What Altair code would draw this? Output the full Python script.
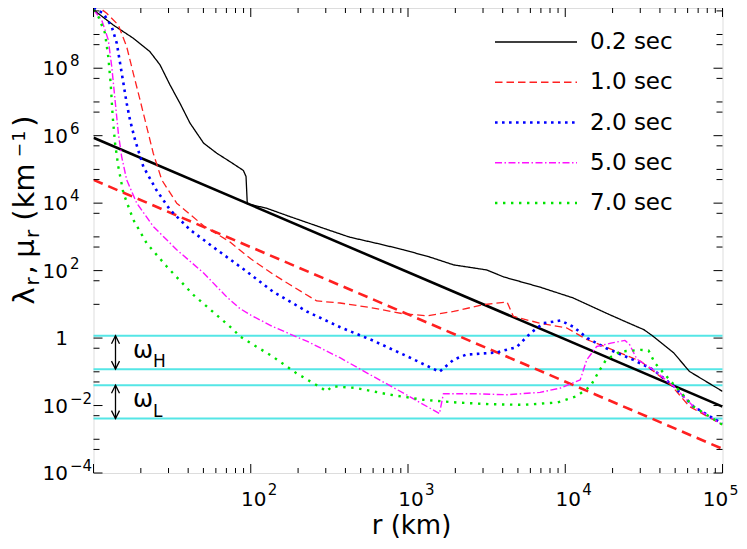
import altair as alt
import pandas as pd

# ---------------- data (log10 units) ----------------
series_names = ["0.2 sec", "1.0 sec", "2.0 sec", "5.0 sec", "7.0 sec"]
series_colors = ["#000000", "#ff2020", "#0000ff", "#ff10ff", "#00e400"]

logr_02 = [1.0, 1.126, 1.253, 1.359, 1.423, 1.487, 1.55, 1.614, 1.70, 1.784, 1.868, 1.953, 1.970, 1.978,
           2.10, 2.25, 2.46, 2.63, 2.80, 2.97, 3.14, 3.29, 3.50, 3.61, 3.84, 4.05, 4.26, 4.43, 4.50, 4.56,
           4.69, 4.79, 4.815, 5.0]
logv_02 = [9.73, 9.28, 8.89, 8.49, 8.10, 7.50, 6.96, 6.37, 5.78, 5.48, 5.23, 4.97, 4.79, 3.98,
           3.85, 3.60, 3.26, 2.99, 2.81, 2.62, 2.40, 2.17, 2.02, 1.81, 1.51, 1.19, 0.74, 0.39, 0.25, 0.05,
           -0.44, -0.99, -1.06, -1.58]

logr_10 = [1.0, 1.084, 1.158, 1.211, 1.253, 1.296, 1.338, 1.38, 1.434, 1.529, 1.70, 1.868, 2.0, 2.14,
           2.25, 2.42, 2.568, 2.78, 2.97, 3.12, 3.29, 3.48, 3.63, 3.67, 3.84, 4.01, 4.14, 4.26, 4.48,
           4.67, 4.79, 5.0]
logv_10 = [9.93, 9.63, 9.28, 8.64, 7.85, 7.06, 6.27, 5.48, 4.69, 4.0, 3.33, 2.85, 2.35, 1.90,
           1.58, 1.10, 1.04, 0.89, 0.72, 0.66, 0.79, 0.99, 1.07, 0.64, 0.44, 0.30, -0.05, -0.27, -0.69,
           -1.38, -2.03, -2.57]

logr_20 = [1.0, 1.062, 1.116, 1.148, 1.169, 1.19, 1.211, 1.232, 1.264, 1.317, 1.40, 1.487, 1.614, 1.784,
           1.975, 2.14, 2.36, 2.57, 2.78, 2.99, 3.20, 3.29, 3.37, 3.56, 3.69, 3.78, 3.86, 3.97, 4.05,
           4.14, 4.26, 4.43, 4.56, 4.69, 4.815, 5.0]
logv_20 = [9.78, 9.63, 9.23, 8.74, 8.15, 7.56, 6.96, 6.47, 5.88, 5.08, 4.39, 3.80, 3.21, 2.62,
           1.97, 1.38, 0.78, 0.32, -0.08, -0.53, -1.0, -0.64, -0.49, -0.43, -0.27, 0.15, 0.44, 0.52, 0.34,
           0.0, -0.30, -0.64, -0.94, -1.43, -2.03, -2.54]

logr_50 = [1.0, 1.052, 1.094, 1.116, 1.137, 1.158, 1.179, 1.211, 1.275, 1.38, 1.529, 1.70, 1.847, 1.93,
           2.0, 2.14, 2.36, 2.57, 2.78, 2.99, 3.20, 3.225, 3.42, 3.63, 3.84, 3.97, 4.095, 4.137, 4.20,
           4.29, 4.38, 4.41, 4.455, 4.56, 4.69, 4.815, 5.0]
logv_50 = [9.73, 9.43, 8.84, 8.05, 7.06, 6.07, 5.38, 4.69, 4.0, 3.31, 2.62, 1.93, 1.22, 0.88,
           0.68, 0.34, -0.10, -0.59, -1.14, -1.68, -2.24, -1.65, -1.65, -1.68, -1.61, -1.48, -1.24, -0.64,
           -0.25, -0.15, -0.07, -0.20, -0.62, -0.94, -1.43, -2.03, -2.57]

logr_70 = [1.0, 1.031, 1.073, 1.094, 1.109, 1.122, 1.137, 1.158, 1.19, 1.253, 1.338, 1.466, 1.635, 1.89,
           1.93, 2.14, 2.29, 2.45, 2.48, 2.52, 2.67, 2.886, 3.10, 3.31, 3.52, 3.73, 3.95, 4.07, 4.16,
           4.22, 4.26, 4.35, 4.48, 4.53, 4.57, 4.69, 4.815, 5.0]
logv_70 = [9.73, 9.53, 9.04, 8.34, 7.56, 6.57, 5.78, 5.08, 4.30, 3.51, 2.81, 2.12, 1.28, 0.25,
           0.05, -0.55, -1.04, -1.48, -1.58, -1.43, -1.48, -1.68, -1.83, -1.91, -1.96, -1.98, -1.91, -1.73,
           -1.43, -0.94, -0.64, -0.40, -0.35, -0.37, -0.74, -1.38, -2.03, -2.57]

# thick straight lines (lambda_r solid black, mu_r dashed red)
line_r = [10, 1e5]
lambda_r = [8.7e5, 9.3e-3]
mu_r = [4.9e4, 5.2e-4]

# cyan horizontal levels (omega_H band and omega_L band)
omega_levels = [1.17, 0.12, 0.04, 0.0041]
arrow_r = 13.8
arrow_tops = [1.17, 0.04]
arrow_bottoms = [0.12, 0.0041]

# axis tick values and labels
y_label_vals = [1e8, 1e6, 1e4, 1e2, 1, 1e-2, 1e-4]
y_label_base = ["10", "10", "10", "10", "1", "10", "10"]
y_label_exp = ["8", "6", "4", "2", "", "\u22122", "\u22124"]
y_major_ticks = [1e-4, 1e-2, 1, 1e2, 1e4, 1e6, 1e8]
y_minor_ticks = [5e-4, 1e-3, 5e-3, 1e-1, 5e-2, 5e-1, 10, 50, 1e3, 500, 5e3, 1e5, 5e4, 5e5, 1e7, 5e6, 5e7, 1e9, 5e8, 5e9]
x_label_vals = [1e2, 1e3, 1e4, 1e5]
x_label_base = ["10", "10", "10", "10"]
x_label_exp = ["2", "3", "4", "5"]
x_major_ticks = [10, 1e2, 1e3, 1e4, 1e5]
x_minor_ticks = [m * d for d in (10, 100, 1000, 10000) for m in (2, 3, 4, 5, 6, 7, 8, 9)]

# ---------------- build tables ----------------
rows = []
for name, lr, lv in [("0.2 sec", logr_02, logv_02), ("1.0 sec", logr_10, logv_10),
                     ("2.0 sec", logr_20, logv_20), ("5.0 sec", logr_50, logv_50),
                     ("7.0 sec", logr_70, logv_70)]:
    for i, (a, b) in enumerate(zip(lr, lv)):
        rows.append({"series": name, "i": i, "r": 10 ** a, "v": 10 ** b})
df = pd.DataFrame(rows)

F = "DejaVu Sans"
W, H = 629, 465
xs = alt.Scale(type="log", domain=[10, 1e5], nice=False)
ys = alt.Scale(type="log", domain=[1e-4, 6.1e9], nice=False)

# line styles per series (style only, not data)
styles = {
    "0.2 sec": dict(strokeDash=[1, 0], strokeWidth=1.3),
    "1.0 sec": dict(strokeDash=[7.5, 4], strokeWidth=1.3),
    "2.0 sec": dict(strokeDash=[2.6, 4.4], strokeWidth=2.6),
    "5.0 sec": dict(strokeDash=[7, 2.5, 1.5, 2.5], strokeWidth=1.4),
    "7.0 sec": dict(strokeDash=[2.4, 5.6], strokeWidth=2.4),
}
colors = dict(zip(series_names, series_colors))

cyan = alt.Chart(pd.DataFrame({"v": omega_levels})).mark_rule(
    color="#55e6e6", strokeWidth=2).encode(y=alt.Y("v:Q", scale=ys, axis=None))

thick = pd.DataFrame({"r": line_r * 2, "v": lambda_r + mu_r,
                      "k": ["lambda", "lambda", "mu", "mu"]})
thick_black = alt.Chart(thick).transform_filter("datum.k == 'lambda'").mark_line(
    color="black", strokeWidth=2.6, clip=True).encode(
    x=alt.X("r:Q", scale=xs, axis=None), y=alt.Y("v:Q", scale=ys, axis=None))
thick_red = alt.Chart(thick).transform_filter("datum.k == 'mu'").mark_line(
    color="#ff2020", strokeWidth=2.6, strokeDash=[10, 6], clip=True).encode(
    x=alt.X("r:Q", scale=xs, axis=None), y=alt.Y("v:Q", scale=ys, axis=None))

curves = [
    alt.Chart(df).transform_filter(alt.datum.series == name).mark_line(
        clip=True, strokeCap="butt", strokeJoin="round", color=colors[name], **styles[name]).encode(
        x=alt.X("r:Q", scale=xs, axis=None),
        y=alt.Y("v:Q", scale=ys, axis=None),
        order="i:Q")
    for name in series_names
]

# arrows
arr = pd.DataFrame({"r": [arrow_r, arrow_r], "top": arrow_tops, "bot": arrow_bottoms})
arrow_shaft = alt.Chart(arr).mark_rule(color="black", strokeWidth=1.3).encode(
    x=alt.X("r:Q", scale=xs, axis=None), y=alt.Y("top:Q", scale=ys, axis=None), y2="bot:Q")
arrow_up = alt.Chart(arr).mark_point(shape="M-0.5,1L0,0L0.5,1", filled=False, size=256,
                                     color="black", strokeWidth=1.3, opacity=1).encode(
    x=alt.X("r:Q", scale=xs, axis=None), y=alt.Y("top:Q", scale=ys, axis=None))
arrow_dn = alt.Chart(arr).mark_point(shape="M-0.5,-1L0,0L0.5,-1", filled=False, size=256,
                                     color="black", strokeWidth=1.3, opacity=1).encode(
    x=alt.X("r:Q", scale=xs, axis=None), y=alt.Y("bot:Q", scale=ys, axis=None))


def txt(s, x, y, size, **kw):
    return alt.Chart(pd.DataFrame({"t": [s]})).mark_text(
        font=F, fontSize=size, color="black", **kw).encode(
        x=alt.value(x), y=alt.value(y), text="t:N")


omega = [
    txt("\u03c9", 39.5, 350, 24, align="left", baseline="alphabetic"),
    txt("H", 59.5, 359, 17, align="left", baseline="alphabetic"),
    txt("\u03c9", 39.5, 399, 24, align="left", baseline="alphabetic"),
    txt("L", 59.5, 409, 17, align="left", baseline="alphabetic"),
]

# ticks (inward, all four sides)
def ytick(vals, L):
    d = pd.DataFrame({"v": vals})
    base = alt.Chart(d).mark_rule(color="black", strokeWidth=1)
    return [base.encode(y=alt.Y("v:Q", scale=ys, axis=None), x=alt.value(0), x2=alt.value(L)),
            base.encode(y=alt.Y("v:Q", scale=ys, axis=None), x=alt.value(W), x2=alt.value(W - L))]


def xtick(vals, L):
    d = pd.DataFrame({"r": vals})
    base = alt.Chart(d).mark_rule(color="black", strokeWidth=1)
    return [base.encode(x=alt.X("r:Q", scale=xs, axis=None), y=alt.value(H), y2=alt.value(H - L)),
            base.encode(x=alt.X("r:Q", scale=xs, axis=None), y=alt.value(0), y2=alt.value(L))]


ticks = ytick(y_major_ticks, 9) + ytick(y_minor_ticks, 6) + xtick(x_major_ticks, 9) + xtick(x_minor_ticks, 5)

# tick labels
ylab = pd.DataFrame({"v": y_label_vals, "base": y_label_base, "exp": y_label_exp})
ybase = alt.Chart(ylab).mark_text(font=F, fontSize=20, align="right", baseline="middle", dy=1).encode(
    y=alt.Y("v:Q", scale=ys, axis=None), x=alt.value(-25.5), text="base:N")
yexp = alt.Chart(ylab).mark_text(font=F, fontSize=15, align="left", baseline="alphabetic", dy=-2).encode(
    y=alt.Y("v:Q", scale=ys, axis=None), x=alt.value(-23.5), text="exp:N")

xlab = pd.DataFrame({"r": x_label_vals, "base": x_label_base, "exp": x_label_exp})
xbase_a = alt.Chart(xlab).transform_filter("datum.r < 50000").mark_text(
    font=F, fontSize=20, align="center", baseline="alphabetic", dx=3).encode(
    x=alt.X("r:Q", scale=xs, axis=None), y=alt.value(498), text="base:N")
xexp_a = alt.Chart(xlab).transform_filter("datum.r < 50000").mark_text(
    font=F, fontSize=15, align="left", baseline="alphabetic", dx=17).encode(
    x=alt.X("r:Q", scale=xs, axis=None), y=alt.value(487), text="exp:N")
xbase_b = alt.Chart(xlab).transform_filter("datum.r > 50000").mark_text(
    font=F, fontSize=20, align="center", baseline="alphabetic", dx=-7).encode(
    x=alt.X("r:Q", scale=xs, axis=None), y=alt.value(498), text="base:N")
xexp_b = alt.Chart(xlab).transform_filter("datum.r > 50000").mark_text(
    font=F, fontSize=14, align="left", baseline="alphabetic", dx=7).encode(
    x=alt.X("r:Q", scale=xs, axis=None), y=alt.value(487), text="exp:N")

xtitle = txt("r (km)", 318, 526, 26, align="center", baseline="alphabetic")

# rotated y title pieces: (text, center y on page, size, baseline x on page)
ytitle_parts = [
    ("\u03bb", 296, 29, 34), ("r", 281.5, 20, 39), (",", 270, 29, 34),
    ("\u03bc", 248.5, 29, 34), ("r", 234, 20, 39), ("(", 215, 29, 34),
    ("km", 186, 29, 34), ("\u2212", 150, 17, 25), ("1", 136, 17, 25), (")", 121, 29, 34),
]
ytitle = [txt(s, bx - 93.5, cy - 8, sz, angle=270, align="center", baseline="alphabetic")
          for s, cy, sz, bx in ytitle_parts]

main = alt.layer(cyan, thick_black, thick_red, *curves, arrow_shaft, arrow_up, arrow_dn,
                 *ticks, ybase, yexp, xbase_a, xexp_a, xbase_b, xexp_b, xtitle, *ytitle, *omega)

# legend (built from the series names)
leg = pd.DataFrame({"series": series_names})
ly = alt.Y("series:N", scale=alt.Scale(type="point", domain=series_names, range=[34, 195], padding=0),
           axis=None)
leg_lines = [
    alt.Chart(leg).transform_filter(alt.datum.series == name).mark_rule(
        strokeCap="butt", color=colors[name], **styles[name]).encode(
        y=ly, x=alt.value(401.5), x2=alt.value(483.5))
    for name in series_names
]
leg_text = alt.Chart(leg).mark_text(font=F, fontSize=23, align="left", baseline="middle", color="black").encode(
    y=ly, x=alt.value(496.5), text="series:N")
legend = alt.layer(*leg_lines, leg_text)

chart = alt.layer(main, legend).resolve_scale(y="independent").properties(
    width=W, height=H,
    padding={"left": 85.5, "top": 0, "right": 16.5, "bottom": 67},
    autosize=alt.AutoSizeParams(type="none"),
).configure_view(stroke="black", strokeWidth=1.6).configure(background="white")

chart.save("out.html", embed_options={"renderer": "svg", "actions": False})
